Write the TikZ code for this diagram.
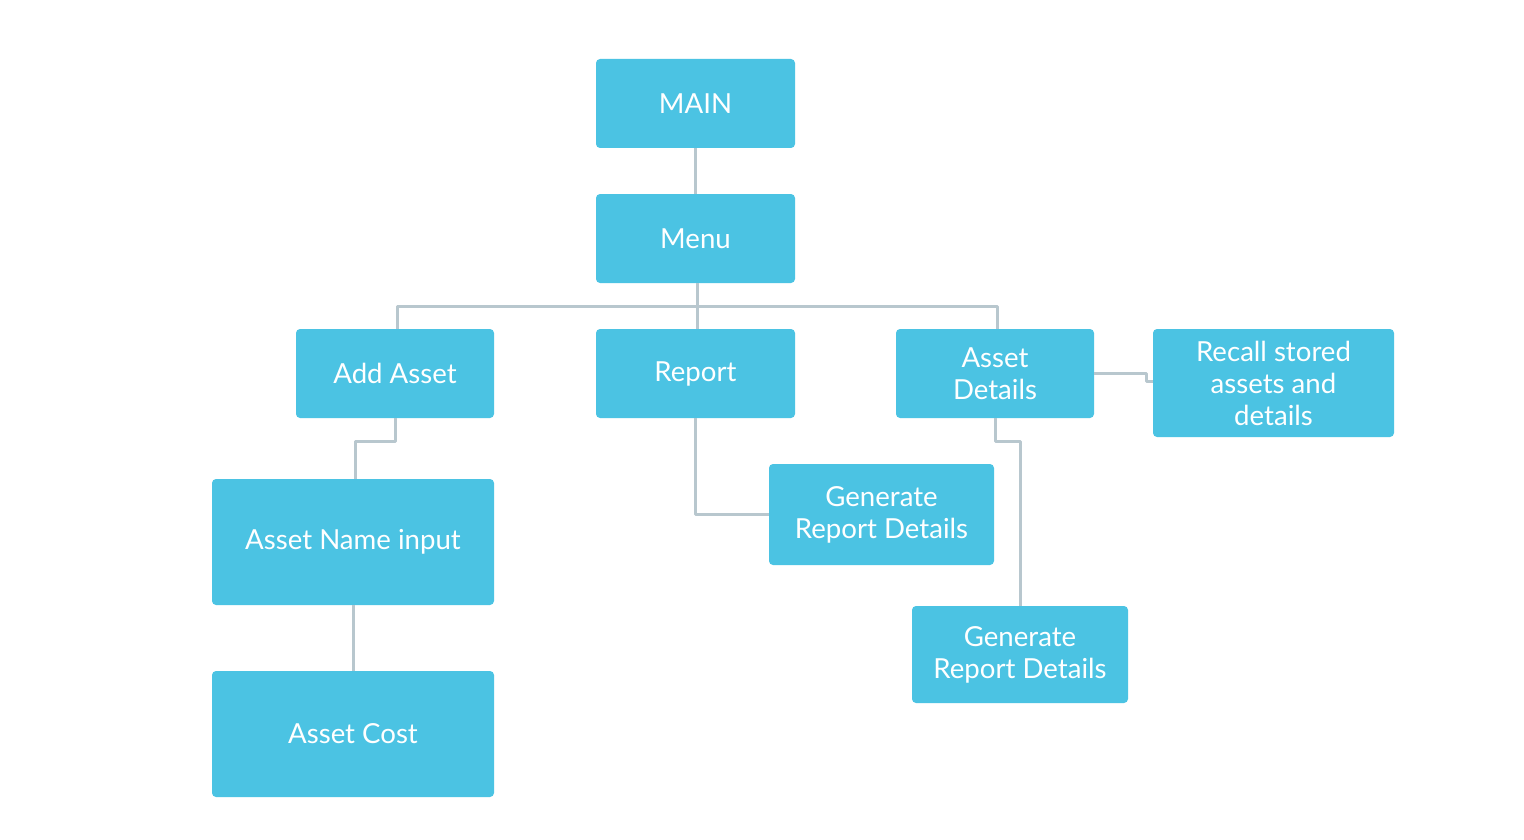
\documentclass[tikz,border=0pt]{standalone}
\usepackage{fontspec}
\setmainfont{Lato}
\definecolor{boxfill}{HTML}{4BC3E3}
\definecolor{linecol}{HTML}{B8C7CE}
\begin{document}
\begin{tikzpicture}[x=1pt,y=-1pt,
  box/.style={draw=none,fill=boxfill,rounded corners=4pt,text=white,align=center,
    font=\fontsize{27.6}{32}\selectfont,inner sep=0pt},
  conn/.style={draw=linecol,line width=3pt,line join=round}]
\useasboundingbox (0,0) rectangle (1524,840);
\node[box,minimum width=199pt,minimum height=89pt] (main) at (695.5,103.5) {MAIN};
\node[box,minimum width=199pt,minimum height=89pt] (menu) at (695.5,238.5) {Menu};
\node[box,minimum width=198pt,minimum height=89pt] (addasset) at (395,373.5) {Add Asset};
\node[box,minimum width=199pt,minimum height=89pt] (report) at (695.5,373.5) {Report};
\node[box,minimum width=198pt,minimum height=89pt] (assetdet) at (995,373.5) {Asset\\Details};
\node[box,minimum width=241pt,minimum height=108pt] (recall) at (1273.5,383) {Recall stored\\assets and\\details};
\node[box,minimum width=282pt,minimum height=126pt] (assetname) at (353,542) {Asset Name input};
\node[box,minimum width=282pt,minimum height=126pt] (assetcost) at (353,734) {Asset Cost};
\node[box,minimum width=225pt,minimum height=101pt] (genA) at (881.5,514.5) {Generate\\Report Details};
\node[box,minimum width=216pt,minimum height=97pt] (genB) at (1020,654.5) {Generate\\Report Details};
\draw[conn] (main.south) -- (menu.north);
\draw[conn] ([xshift=1.5pt]menu.south) -- ++(0,23) coordinate (bus);
\draw[conn] ([xshift=2pt]addasset.north) |- (bus) -| ([xshift=2pt]assetdet.north);
\draw[conn] (bus) -- ([xshift=1.5pt]report.north);
\draw[conn] (addasset.south) -- ++(0,23) -| ([xshift=2pt]assetname.north);
\draw[conn] ([xshift=-0.5pt]report.south) |- (genA.west);
\draw[conn] (assetdet.east) -- ++(52,0) |- ([yshift=2pt]recall.west);
\draw[conn] (assetdet.south) -- ++(0,23) -| (genB.north);
\draw[conn] (assetname.south) -- (assetcost.north);
\end{tikzpicture}
\end{document}
